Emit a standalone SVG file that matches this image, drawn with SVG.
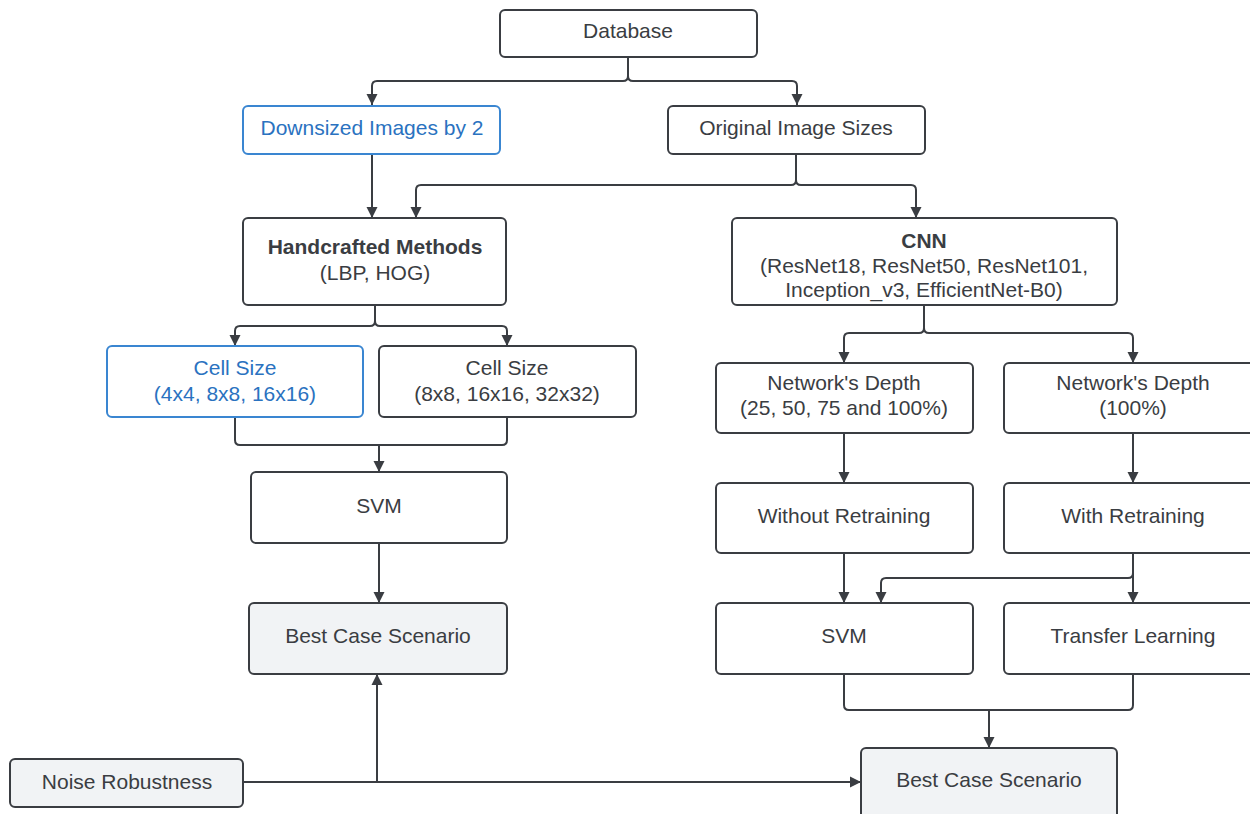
<svg xmlns="http://www.w3.org/2000/svg" width="1250" height="814" viewBox="0 0 1250 814">
<style>
.box{fill:#ffffff;stroke:#3a3d42;stroke-width:2}
.blue{fill:#ffffff;stroke:#3a86d1;stroke-width:2}
.gray{fill:#f1f3f5;stroke:#3a3d42;stroke-width:2}
text{font-family:"Liberation Sans",Arial,sans-serif;font-size:21px;fill:#3a3d42;text-anchor:middle}
.bt{fill:#2a72c0}
.b{font-weight:bold}
.c{fill:none;stroke:#3a3d42;stroke-width:2;stroke-linejoin:round}
</style>
<defs>
<marker id="ah" viewBox="0 0 10 10" refX="10" refY="5" markerWidth="11" markerHeight="12" markerUnits="userSpaceOnUse" orient="auto">
<path d="M0,0 L10,5 L0,10 Z" fill="#3a3d42"/>
</marker>
</defs>
<rect width="1250" height="814" fill="#ffffff"/>
<g id="connectors">
<path class="c" d="M628,57 V76 Q628,81 623,81 H377 Q372,81 372,86 V105" marker-end="url(#ah)"/>
<path class="c" d="M628,76 Q628,81 633,81 H792 Q797,81 797,86 V105" marker-end="url(#ah)"/>
<path class="c" d="M372,154 V218" marker-end="url(#ah)"/>
<path class="c" d="M796,154 V180 Q796,185 791,185 H421 Q416,185 416,190 V218" marker-end="url(#ah)"/>
<path class="c" d="M796,180 Q796,185 801,185 H911 Q916,185 916,190 V218" marker-end="url(#ah)"/>
<path class="c" d="M375,305 V321 Q375,326 370,326 H240 Q235,326 235,331 V346" marker-end="url(#ah)"/>
<path class="c" d="M375,321 Q375,326 380,326 H502 Q507,326 507,331 V346" marker-end="url(#ah)"/>
<path class="c" d="M235,417 V440 Q235,445 240,445 H502 Q507,445 507,440 V417"/>
<path class="c" d="M379,445 V472" marker-end="url(#ah)"/>
<path class="c" d="M379,543 V603" marker-end="url(#ah)"/>
<path class="c" d="M243,782 H861" marker-end="url(#ah)"/>
<path class="c" d="M377,782 V674" marker-end="url(#ah)"/>
<path class="c" d="M924,305 V328 Q924,333 919,333 H849 Q844,333 844,338 V363" marker-end="url(#ah)"/>
<path class="c" d="M924,328 Q924,333 929,333 H1128 Q1133,333 1133,338 V363" marker-end="url(#ah)"/>
<path class="c" d="M844,433 V483" marker-end="url(#ah)"/>
<path class="c" d="M1133,433 V483" marker-end="url(#ah)"/>
<path class="c" d="M844,553 V603" marker-end="url(#ah)"/>
<path class="c" d="M1133,553 V573 Q1133,578 1128,578 H886 Q881,578 881,583 V603" marker-end="url(#ah)"/>
<path class="c" d="M1133,573 V603" marker-end="url(#ah)"/>
<path class="c" d="M844,674 V705 Q844,710 849,710 H1128 Q1133,710 1133,705 V674"/>
<path class="c" d="M989,710 V748" marker-end="url(#ah)"/>
</g>
<g id="database"><rect class="box" x="500" y="10" width="257" height="47" rx="5"/><text x="628" y="38">Database</text></g>
<g id="downsized"><rect class="blue" x="243" y="106" width="257" height="48" rx="5"/><text class="bt" x="372" y="135">Downsized Images by 2</text></g>
<g id="original"><rect class="box" x="668" y="106" width="257" height="48" rx="5"/><text x="796" y="135">Original Image Sizes</text></g>
<g id="handcrafted"><rect class="box" x="243" y="218" width="263" height="87" rx="5"/><text class="b" x="375" y="254">Handcrafted Methods</text><text x="375" y="280">(LBP, HOG)</text></g>
<g id="cnn"><rect class="box" x="732" y="218" width="385" height="87" rx="5"/><text class="b" x="924" y="248">CNN</text><text x="924" y="273">(ResNet18, ResNet50, ResNet101,</text><text x="924" y="297">Inception_v3, EfficientNet-B0)</text></g>
<g id="cell1"><rect class="blue" x="107" y="346" width="256" height="71" rx="5"/><text class="bt" x="235" y="375">Cell Size</text><text class="bt" x="235" y="401">(4x4, 8x8, 16x16)</text></g>
<g id="cell2"><rect class="box" x="379" y="346" width="257" height="71" rx="5"/><text x="507" y="375">Cell Size</text><text x="507" y="401">(8x8, 16x16, 32x32)</text></g>
<g id="svm1"><rect class="box" x="251" y="472" width="256" height="71" rx="5"/><text x="379" y="513">SVM</text></g>
<g id="best1"><rect class="gray" x="249" y="603" width="258" height="71" rx="5"/><text x="378" y="643">Best Case Scenario</text></g>
<g id="depth1"><rect class="box" x="716" y="363" width="257" height="70" rx="5"/><text x="844" y="390">Network's Depth</text><text x="844" y="415">(25, 50, 75 and 100%)</text></g>
<g id="depth2"><rect class="box" x="1004" y="363" width="258" height="70" rx="5"/><text x="1133" y="390">Network's Depth</text><text x="1133" y="415">(100%)</text></g>
<g id="without"><rect class="box" x="716" y="483" width="257" height="70" rx="5"/><text x="844" y="523">Without Retraining</text></g>
<g id="with"><rect class="box" x="1004" y="483" width="258" height="70" rx="5"/><text x="1133" y="523">With Retraining</text></g>
<g id="svm2"><rect class="box" x="716" y="603" width="257" height="71" rx="5"/><text x="844" y="643">SVM</text></g>
<g id="transfer"><rect class="box" x="1004" y="603" width="258" height="71" rx="5"/><text x="1133" y="643">Transfer Learning</text></g>
<g id="best2"><rect class="gray" x="861" y="748" width="256" height="80" rx="5"/><text x="989" y="787">Best Case Scenario</text></g>
<g id="noise"><rect class="gray" x="10" y="759" width="233" height="48" rx="5"/><text x="127" y="789">Noise Robustness</text></g>
</svg>
